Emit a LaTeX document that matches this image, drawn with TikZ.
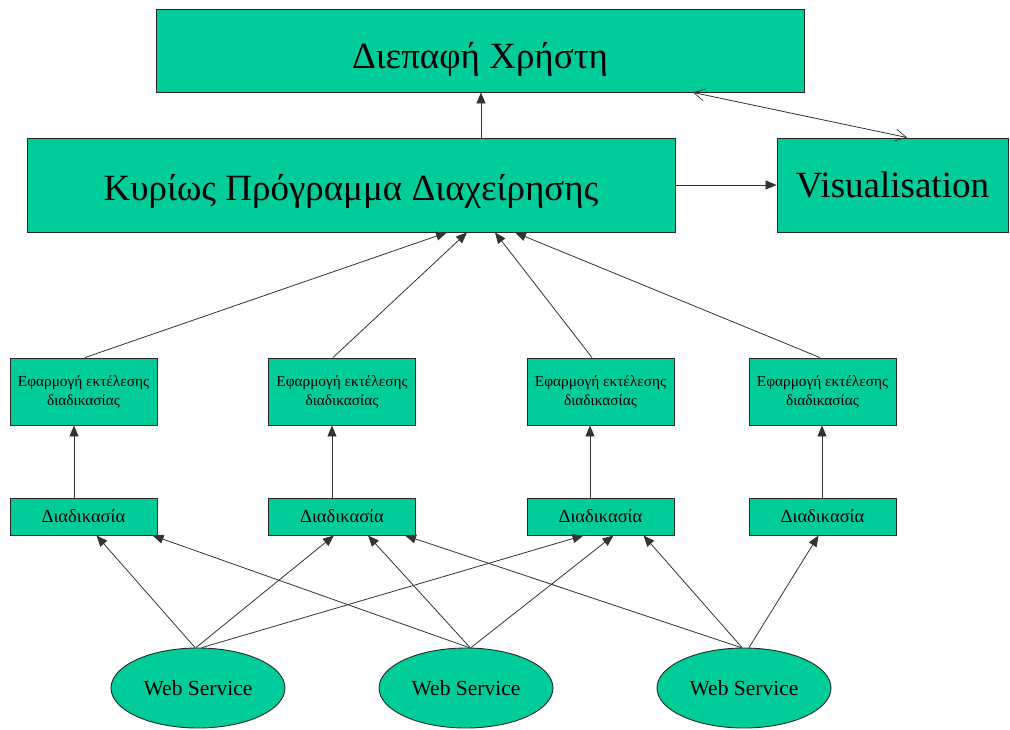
\documentclass[tikz,border=0pt]{standalone}
\usepackage{fontspec}
\setmainfont{Liberation Serif}
\usetikzlibrary{arrows.meta,shapes.geometric}
\definecolor{boxgreen}{RGB}{0,204,153}
\definecolor{edge}{RGB}{40,40,40}
\tikzset{
  box/.style={draw=edge,line width=0.9pt,fill=boxgreen,rectangle,inner sep=0pt,anchor=center},
  ws/.style={draw=edge,line width=0.9pt,fill=boxgreen,ellipse,inner sep=0pt,
    minimum width=174pt,minimum height=80pt,font=\fontsize{21.5}{24}\selectfont},
  effbox/.style={box,minimum width=147pt,minimum height=67pt,align=center,
    font=\fontsize{15.3}{19}\selectfont},
  procbox/.style={box,minimum width=147pt,minimum height=37pt,
    font=\fontsize{18.5}{21}\selectfont},
  title/.style={font=\fontsize{37}{42}\selectfont},
  link/.style={draw=black!80,line width=0.8pt,-{Triangle[length=11pt,width=9pt]}},
  duplex/.style={draw=black!80,line width=0.8pt,
    {Straight Barb[length=11pt,width=12pt,line width=0.7pt]}-{Straight Barb[length=11pt,width=12pt,line width=0.7pt]}}
}
\begin{document}
\begin{tikzpicture}[x=1pt,y=-1pt]
\useasboundingbox (0,0) rectangle (1010,729);

% upper layer
\node[box,title,minimum width=648pt,minimum height=83pt,text height=40pt,text depth=4pt]
  (ui) at (480,50.5) {Διεπαφή Χρήστη};
\node[box,title,minimum width=648pt,minimum height=94pt,text height=36pt,text depth=6pt]
  (main) at (351,185) {Κυρίως Πρόγραμμα Διαχείρησης};
\node[box,title,minimum width=231pt,minimum height=94pt]
  (vis) at (892.5,185) {Visualisation};

% execution applications and their processes
\foreach \i/\x in {1/83.5,2/342,3/600.5,4/822.5}{
  \node[effbox] (e\i) at (\x,391.5) {Εφαρμογή εκτέλεσης\\διαδικασίας};
  \node[procbox] (p\i) at (\x,516.5) {Διαδικασία};
}

% web services
\node[ws] (w1) at (198,688) {Web Service};
\node[ws] (w2) at (466,688) {Web Service};
\node[ws] (w3) at (744,688) {Web Service};

% main program links
\draw[link] ([xshift=130pt]main.north) -- ([xshift=130pt]main.north |- ui.south);
\draw[link] (main.east) -- (vis.west);
\draw[duplex] ([xshift=213pt]ui.south) -- ([xshift=14.5pt]vis.north);

% applications report to the main program
\draw[link] ([xshift=1.5pt]e1.north) -- ([xshift=96pt]main.south);
\draw[link] ([xshift=-9pt]e2.north) -- ([xshift=116pt]main.south);
\draw[link] ([xshift=-8.5pt]e3.north) -- ([xshift=144pt]main.south);
\draw[link] ([xshift=-2.5pt]e4.north) -- ([xshift=164pt]main.south);

% processes feed the applications
\draw[link] ([xshift=-9.5pt]p1.north) -- ([xshift=-9.5pt]e1.south);
\draw[link] ([xshift=-10pt]p2.north) -- ([xshift=-10pt]e2.south);
\draw[link] ([xshift=-10.5pt]p3.north) -- ([xshift=-10.5pt]e3.south);
\draw[link] ([xshift=-0.5pt]p4.north) -- ([xshift=-0.5pt]e4.south);

% web services feed the processes
\draw[link] ([xshift=-3pt]w1.north) -- ([xshift=13pt]p1.south);
\draw[link] ([xshift=-2pt]w1.north) -- ([xshift=-8pt]p2.south);
\draw[link] ([xshift=4pt]w1.north) -- ([xshift=-17pt]p3.south);
\draw[link] ([xshift=3pt]w2.north) -- ([xshift=69pt]p1.south);
\draw[link] ([xshift=4pt]w2.north) -- ([xshift=26pt]p2.south);
\draw[link] ([xshift=5pt]w2.north) -- ([xshift=13pt]p3.south);
\draw[link] ([xshift=-3pt]w3.north) -- ([xshift=63pt]p2.south);
\draw[link] ([xshift=-2pt]w3.north) -- ([xshift=43pt]p3.south);
\draw[link] ([xshift=5pt]w3.north) -- ([xshift=-4pt]p4.south);
\end{tikzpicture}
\end{document}
